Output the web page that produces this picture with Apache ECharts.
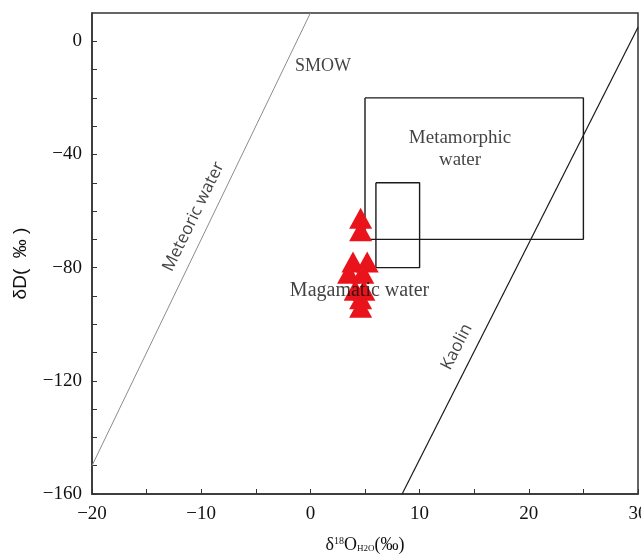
<!DOCTYPE html>
<html>
<head>
<meta charset="utf-8">
<script src="https://cdn.jsdelivr.net/npm/echarts@6/dist/echarts.min.js"></script>
<style>html,body{margin:0;padding:0;background:#fff;}#c{width:641px;height:554px;}</style>
</head>
<body>
<div id="c"></div>
<script>
// Data
var meteoricLine = [[-20, -150], [0, 10]];
var kaolinLine = [[8.4, -160], [30, 5]];
var metamorphicBox = [[5, -20], [25, -20], [25, -70], [5, -70], [5, -20]];
var magmaticBox = [[6, -50], [10, -50], [10, -80], [6, -80], [6, -50]];
var samplesX = [4.6, 4.6, 3.9, 5.2, 3.5, 4.8, 4.1, 4.9, 4.6, 4.6];
var samplesY = [-62.5, -67, -78, -78, -82, -82, -88, -88, -91, -94];
var xTickLabels = [-20, -10, 0, 10, 20, 30];
var yTickLabels = [0, -40, -80, -120, -160];
var texts = [
  {name: 'SMOW', x: 1.15, y: -8.8, rot: 0, family: 'Liberation Serif', size: 18},
  {name: 'Metamorphic', x: 13.7, y: -34.3, rot: 0, family: 'Liberation Serif', size: 19},
  {name: 'water', x: 13.7, y: -42, rot: 0, family: 'Liberation Serif', size: 19},
  {name: 'Magamatic water', x: 4.5, y: -88.3, rot: 0, family: 'Liberation Serif', size: 20},
  {name: 'Meteoric water', x: -10.7, y: -62, rot: 64, family: 'Open Sans', size: 17},
  {name: 'Kaolin', x: 13.4, y: -108, rot: 63, family: 'Open Sans', size: 17}
];

var samples = samplesX.map(function (v, i) { return [v, samplesY[i]]; });
var chart = echarts.init(document.getElementById('c'));
var font = 'Liberation Serif';
var series = [
  {type: 'line', data: meteoricLine, showSymbol: false, lineStyle: {color: '#8c8c8c', width: 1}, z: 2},
  {type: 'line', data: kaolinLine, showSymbol: false, lineStyle: {color: '#1a1a1a', width: 1.2}, z: 2},
  {type: 'line', data: metamorphicBox, showSymbol: false, lineStyle: {color: '#1a1a1a', width: 1.4}, z: 2},
  {type: 'line', data: magmaticBox, showSymbol: false, lineStyle: {color: '#1a1a1a', width: 1.4}, z: 2},
  {type: 'scatter', data: samples, symbol: 'triangle', symbolSize: [23, 21], itemStyle: {color: '#e8131b', opacity: 1}, z: 3}
];
texts.forEach(function (t) {
  series.push({
    type: 'scatter', symbolSize: 0, z: 4,
    data: [{name: t.name, value: [t.x, t.y]}],
    label: {show: true, position: 'inside', formatter: '{b}', rotate: t.rot, color: '#111',
      fontFamily: t.family, fontSize: t.size}
  });
});

chart.setOption({
  animation: false,
  grid: {left: 92, right: 3, top: 13, bottom: 60, show: true, borderColor: '#333', borderWidth: 1.5,
    backgroundColor: 'transparent', containLabel: false, outerBoundsMode: 'none'},
  xAxis: {
    type: 'value', min: -20, max: 30, interval: 5,
    axisLine: {show: true, onZero: false, lineStyle: {color: '#333', width: 1.5}},
    axisTick: {show: true, inside: true, length: 5, lineStyle: {color: '#333'}},
    splitLine: {show: false},
    axisLabel: {color: '#111', fontFamily: font, fontSize: 19, margin: 11,
      formatter: function (v) { return xTickLabels.indexOf(v) >= 0 ? String(v).replace('-', '\u2212') : ''; }},
    name: '{a|δ}{sup|18}{a|O}{sub|H2O}{a|(‰)}', nameLocation: 'middle', nameGap: 42,
    nameTextStyle: {rich: {
      a: {fontFamily: font, fontSize: 18, color: '#111'},
      sup: {fontFamily: font, fontSize: 10, color: '#111', padding: [0, 0, 9, 0]},
      sub: {fontFamily: font, fontSize: 9, color: '#111', padding: [7, 0, 0, 0]}
    }}
  },
  yAxis: {
    type: 'value', min: -160, max: 10, interval: 10,
    axisLine: {show: true, onZero: false, lineStyle: {color: '#333', width: 1.5}},
    axisTick: {show: true, inside: true, length: 5, lineStyle: {color: '#333'}},
    splitLine: {show: false},
    axisLabel: {color: '#111', fontFamily: font, fontSize: 19, margin: 10, showMaxLabel: false,
      formatter: function (v) { return yTickLabels.indexOf(v) >= 0 ? String(v).replace('-', '\u2212') : ''; }},
    name: 'δD(  ‰ )', nameLocation: 'middle', nameGap: 62, nameRotate: 90,
    nameTextStyle: {fontFamily: 'Liberation Sans', fontSize: 19, color: '#111', padding: [0, 20, 0, 0]}
  },
  series: series
});
</script>
</body>
</html>
